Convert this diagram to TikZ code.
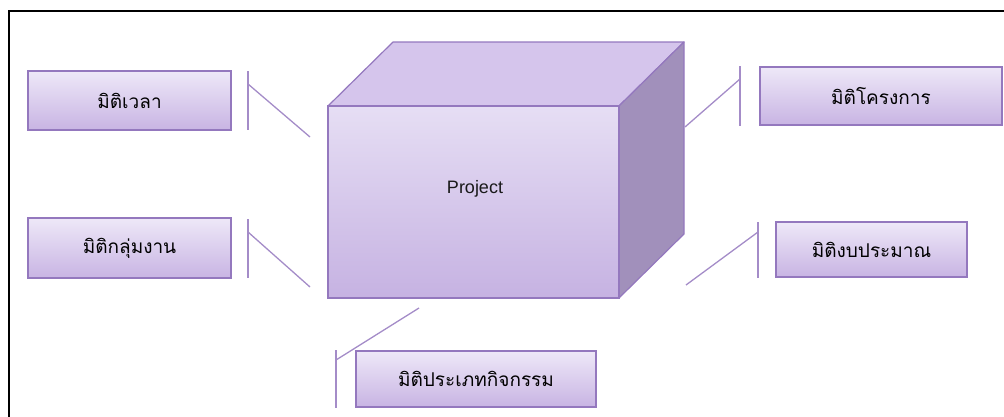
\documentclass[tikz,border=0pt]{standalone}
\usepackage{fontspec}
\newfontfamily\thaifont[Script=Thai]{Loma}
\setmainfont{Liberation Sans}
\usetikzlibrary{shadows}
\definecolor{boxtop}{HTML}{EEE8F8}
\definecolor{boxbot}{HTML}{C8B4E3}
\definecolor{boxline}{HTML}{9478BE}
\definecolor{linkc}{HTML}{A48CC8}
\definecolor{cubetop}{HTML}{D5C5EC}
\definecolor{cubeside}{HTML}{A190BB}
\definecolor{cubefront1}{HTML}{E6DEF4}
\definecolor{cubefront2}{HTML}{C6B2E2}
\tikzset{
  dimbox/.style={draw=boxline, line width=1.3pt, top color=boxtop, bottom color=boxbot,
    drop shadow={shadow xshift=0.8pt, shadow yshift=-1.2pt, opacity=0.35},
    inner sep=0pt, text=black, font=\thaifont\fontsize{19}{22}\selectfont},
  link/.style={draw=linkc, line width=1.3pt},
  frameline/.style={draw=black, line width=2pt}
}
\begin{document}
\begin{tikzpicture}[x=1pt,y=-1pt]
\useasboundingbox (0,0) rectangle (1004,416);
% frame
\draw[frameline] (1004,11) -- (9,11) -- (9,417);
% cube
\coordinate (fA) at (328,106); \coordinate (fB) at (619,106);
\coordinate (fC) at (619,298); \coordinate (fD) at (328,298);
\coordinate (bA) at (393,42); \coordinate (bB) at (684,42);
\coordinate (bC) at (684,234);
\fill[cubetop, draw=boxline, line width=1.2pt, line join=round] (fA) -- (bA) -- (bB) -- (fB) -- cycle;
\fill[cubeside, draw=boxline, line width=1.2pt, line join=round] (fB) -- (bB) -- (bC) -- (fC) -- cycle;
\node[draw=boxline, line width=1.2pt, top color=cubefront1, bottom color=cubefront2,
  minimum width=291pt, minimum height=192pt, inner sep=0pt] (cube) at (473.5,202) {};
\node[font=\fontsize{18}{21}\selectfont, text=black!90] (ptxt) at (475,189) {Project};
% boxes
\node[dimbox, minimum width=203pt, minimum height=59pt] (t1) at (129.5,100.5) {มิติเวลา};
\node[dimbox, minimum width=203pt, minimum height=60pt] (t2) at (129.5,248) {มิติกลุ่มงาน};
\node[dimbox, minimum width=242pt, minimum height=58pt] (t3) at (881,96) {มิติโครงการ};
\node[dimbox, minimum width=191pt, minimum height=55pt] (t4) at (871.5,249.5) {มิติงบประมาณ};
\node[dimbox, minimum width=240pt, minimum height=56pt] (t5) at (476,379) {มิติประเภทกิจกรรม};
% connectors
\coordinate (v1a) at (248,71); \coordinate (v1b) at (248,130);
\coordinate (d1a) at (248,84); \coordinate (d1b) at (310,137);
\draw[link] (v1a) -- (v1b); \draw[link] (d1a) -- (d1b);
\coordinate (v2a) at (248,219); \coordinate (v2b) at (248,278);
\coordinate (d2a) at (248,232); \coordinate (d2b) at (310,287);
\draw[link] (v2a) -- (v2b); \draw[link] (d2a) -- (d2b);
\coordinate (v3a) at (740,66); \coordinate (v3b) at (740,126);
\coordinate (d3a) at (740,79); \coordinate (d3b) at (685,127);
\draw[link] (v3a) -- (v3b); \draw[link] (d3a) -- (d3b);
\coordinate (v4a) at (758,222); \coordinate (v4b) at (758,278);
\coordinate (d4a) at (758,232); \coordinate (d4b) at (686,285);
\draw[link] (v4a) -- (v4b); \draw[link] (d4a) -- (d4b);
\coordinate (v5a) at (336,350); \coordinate (v5b) at (336,408);
\coordinate (d5a) at (336,360); \coordinate (d5b) at (419,308);
\draw[link] (v5a) -- (v5b); \draw[link] (d5a) -- (d5b);
\end{tikzpicture}
\end{document}
